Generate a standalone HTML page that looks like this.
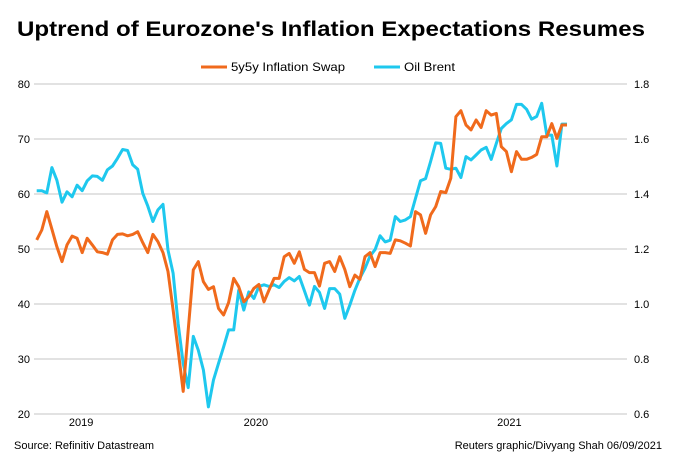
<!DOCTYPE html>
<html><head><meta charset="utf-8"><style>
body{margin:0;background:#fff;}
svg{display:block;font-family:"Liberation Sans",Arial,sans-serif;}
</style></head><body>
<svg id="chart" width="673" height="475" viewBox="0 0 673 475" xmlns="http://www.w3.org/2000/svg">
<text x="17" y="36" font-size="21" font-weight="bold" textLength="628" lengthAdjust="spacingAndGlyphs">Uptrend of Eurozone's Inflation Expectations Resumes</text>
<g>
<line x1="201" y1="67" x2="227" y2="67" stroke="#f06a1c" stroke-width="3"/>
<text x="231" y="71" font-size="12" textLength="114" lengthAdjust="spacingAndGlyphs">5y5y Inflation Swap</text>
<line x1="374" y1="67" x2="400" y2="67" stroke="#1ec8ee" stroke-width="3"/>
<text x="404" y="71" font-size="12" textLength="51" lengthAdjust="spacingAndGlyphs">Oil Brent</text>
</g>
<g id="grid"></g><g id="axes"></g><g id="series"></g>
<text x="14" y="449" font-size="11">Source: Refinitiv Datastream</text>
<text x="662" y="449" font-size="11" text-anchor="end">Reuters graphic/Divyang Shah 06/09/2021</text>
</svg>
<script>
const leftTicks=[20,30,40,50,60,70,80];
const rightTicks=["0.6","0.8","1.0","1.2","1.4","1.6","1.8"];
const xLabels=["2019","2020","2021"];
const xLabelPos=[8.8,43.4,93.6];
const oilBrent=[60.6,60.6,60.2,64.8,62.5,58.5,60.4,59.5,61.6,60.6,62.4,63.3,63.2,62.5,64.4,65.1,66.5,68.1,67.9,65.3,64.5,60.1,57.8,55.0,57.1,58.1,49.8,45.6,36.5,29.2,24.8,34.1,31.6,28.0,21.3,26.2,29.2,32.2,35.3,35.3,42.5,38.9,42.2,41.0,43.2,43.5,43.2,43.5,43.0,44.1,44.8,44.2,45.0,42.4,39.8,43.2,42.1,39.2,42.8,42.8,41.8,37.4,39.8,
42.5,44.7,46.5,48.7,49.9,52.4,51.3,51.6,55.9,55.0,55.3,55.9,59.2,62.4,62.8,65.9,69.3,69.2,64.7,64.5,64.7,63.0,66.8,66.2,67.1,68.0,68.5,66.3,69.2,71.9,72.8,73.5,76.3,76.3,75.4,73.6,74.1,76.5,70.7,70.7,65.1,72.7,72.7];
const swap5y5y=[1.233,1.269,1.336,1.272,1.208,1.154,1.215,1.247,1.239,1.187,1.239,1.215,1.190,1.187,1.181,1.233,1.253,1.255,1.248,1.253,1.263,1.223,1.187,1.253,1.227,1.187,1.118,0.979,0.833,0.682,0.905,1.124,1.154,1.081,1.053,1.063,0.984,0.960,1.005,1.093,1.063,1.008,1.027,1.057,1.071,1.008,1.051,1.093,1.093,1.172,1.184,1.148,1.190,1.126,1.114,1.114,1.065,1.148,1.154,1.118,1.172,1.126,1.063,
1.105,1.090,1.172,1.187,1.136,1.187,1.187,1.184,1.233,1.230,1.221,1.211,1.336,1.324,1.257,1.324,1.354,1.409,1.405,1.457,1.681,1.703,1.651,1.633,1.669,1.642,1.703,1.687,1.693,1.572,1.554,1.481,1.554,1.526,1.526,1.533,1.544,1.608,1.608,1.656,1.602,1.651,1.651];
const NS="http://www.w3.org/2000/svg";
const X0=36.7,X1=567,PL=34,PR=627,YT=84,YB=414;
const n=oilBrent.length;
const xs=i=>X0+(X1-X0)*i/(n-1);
const yL=v=>YB-(v-20)/60*(YB-YT);
const yR=v=>YB-(v-0.6)/1.2*(YB-YT);
const grid=document.getElementById('grid'),axes=document.getElementById('axes'),series=document.getElementById('series');
leftTicks.forEach((t,k)=>{
 const y=yL(t);
 const l=document.createElementNS(NS,'line');
 
 
 l.setAttribute('x1',PL);l.setAttribute('x2',PR);l.setAttribute('y1',y);l.setAttribute('y2',y);
 l.setAttribute('stroke','#c4c4c4');l.setAttribute('stroke-width','1');
 grid.appendChild(l);
 const a=document.createElementNS(NS,'text');
 
 
 a.setAttribute('x',30);a.setAttribute('y',y+4);a.setAttribute('font-size','11');a.setAttribute('text-anchor','end');
 a.textContent=t;axes.appendChild(a);
 const b=document.createElementNS(NS,'text');
 
 
 b.setAttribute('x',634);b.setAttribute('y',y+4);b.setAttribute('font-size','11');
 b.textContent=rightTicks[k];axes.appendChild(b);
});
xLabels.forEach((t,k)=>{
 const a=document.createElementNS(NS,'text');
 
 
 a.setAttribute('x',xs(xLabelPos[k]));a.setAttribute('y',426);a.setAttribute('font-size','11');a.setAttribute('text-anchor','middle');
 a.textContent=t;axes.appendChild(a);
});
function line(vals,fy,color,name){
 const p=document.createElementNS(NS,'polyline');
 
 
 p.setAttribute('points',vals.map((v,i)=>xs(i).toFixed(1)+','+fy(v).toFixed(1)).join(' '));
 p.setAttribute('fill','none');p.setAttribute('stroke',color);p.setAttribute('stroke-width','3');p.setAttribute('stroke-linejoin','round');
 series.appendChild(p);
}
line(oilBrent,yL,'#1ec8ee','oil-brent-line');
line(swap5y5y,yR,'#f06a1c','inflation-swap-line');
</script>
</body></html>
